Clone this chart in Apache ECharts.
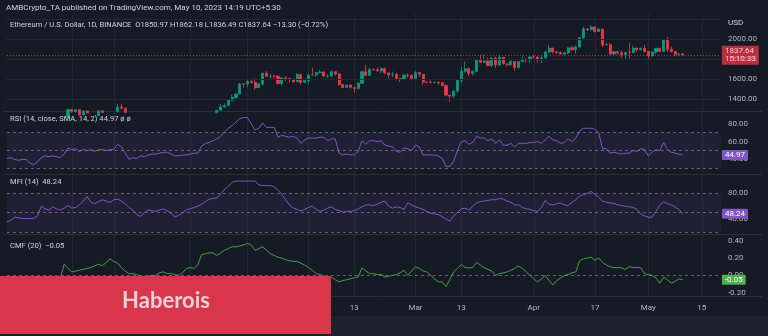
<!DOCTYPE html>
<html>
<head>
<meta charset="utf-8">
<script src="https://cdn.jsdelivr.net/npm/echarts@6.0.0/dist/echarts.min.js"></script>
<style>
  html, body { margin: 0; padding: 0; background: #1e222d; }
  #chart { width: 768px; height: 336px; }
</style>
</head>
<body>
<div id="chart"></div>
<script>
// ETH/USD daily candles, Binance, 14 Nov 2022 .. 10 May 2023
const opens = [1220,1242,1253,1216,1201,1212,1218,1142,1108,1134,1184,1202,1197,1205,1194,1170,1216,1295,1276,1293,1241,1280,1259,1270,1232,1282,1265,1266,1263,1274,1320,1308,1266,1166,1186,1184,1166,1217,1211,1218,1218,1220,1218,1226,1212,1189,1200,1199,1196,1200,1214,1214,1256,1250,1269,1264,1287,1320,1336,1388,1417,1451,1551,1549,1576,1567,1513,1551,1659,1627,1628,1627,1556,1611,1602,1598,1572,1645,1566,1585,1641,1640,1664,1670,1630,1630,1673,1651,1546,1515,1540,1516,1505,1557,1673,1636,1694,1692,1680,1704,1661,1641,1646,1607,1595,1640,1635,1605,1664,1647,1569,1568,1564,1565,1562,1534,1439,1429,1480,1587,1677,1703,1656,1676,1792,1766,1780,1735,1809,1739,1817,1751,1742,1775,1714,1774,1794,1792,1821,1820,1794,1810,1869,1910,1872,1866,1850,1861,1912,1893,1920,2012,2101,2093,2120,2075,2100,1941,1943,1849,1872,1862,1842,1866,1864,1909,1893,1907,1875,1831,1869,1907,1877,1992,1897,1874,1847,1850.97];
const closes = [1242,1253,1216,1201,1212,1218,1142,1108,1134,1184,1202,1197,1205,1194,1170,1216,1295,1276,1293,1241,1280,1259,1270,1232,1282,1265,1266,1263,1274,1320,1308,1266,1166,1186,1184,1166,1217,1211,1218,1218,1220,1218,1226,1212,1189,1200,1199,1196,1200,1214,1214,1256,1250,1269,1264,1287,1320,1336,1388,1417,1451,1551,1549,1576,1567,1513,1551,1659,1627,1628,1627,1556,1611,1602,1598,1572,1645,1566,1585,1641,1640,1664,1670,1630,1630,1673,1651,1546,1515,1540,1516,1505,1557,1673,1636,1694,1692,1680,1704,1661,1641,1646,1607,1595,1640,1635,1605,1664,1647,1569,1568,1564,1565,1562,1534,1439,1429,1480,1587,1677,1703,1656,1676,1792,1766,1780,1735,1809,1739,1817,1751,1742,1775,1714,1774,1794,1792,1821,1820,1794,1810,1869,1910,1872,1866,1850,1861,1912,1893,1920,2012,2101,2093,2120,2075,2100,1941,1943,1849,1872,1862,1842,1866,1864,1909,1893,1907,1875,1831,1869,1907,1877,1992,1897,1874,1847,1850.97,1837.64];
const lows = [1170,1231,1196,1190,1195,1204,1136,1073,1080,1130,1178,1172,1190,1191,1155,1167,1215,1261,1263,1236,1240,1255,1249,1218,1229,1262,1261,1260,1240,1262,1296,1258,1160,1158,1175,1150,1164,1205,1193,1213,1216,1206,1212,1203,1183,1183,1187,1192,1191,1193,1206,1210,1245,1240,1261,1262,1286,1316,1326,1378,1397,1445,1513,1520,1550,1492,1510,1532,1624,1605,1604,1544,1533,1580,1566,1565,1570,1546,1562,1548,1633,1620,1655,1616,1611,1617,1632,1530,1508,1510,1505,1461,1496,1550,1630,1638,1684,1678,1660,1644,1602,1620,1585,1570,1591,1612,1601,1599,1620,1543,1560,1558,1555,1542,1531,1425,1370,1411,1460,1563,1662,1625,1637,1671,1760,1762,1727,1719,1711,1730,1745,1722,1736,1681,1704,1772,1764,1763,1810,1765,1760,1805,1860,1855,1852,1847,1833,1850,1883,1852,1910,1995,2080,2085,2063,2070,1920,1935,1840,1835,1842,1810,1791,1802,1860,1872,1886,1868,1804,1826,1849,1870,1872,1870,1865,1826,1830,1836.49];
const highs = [1262,1268,1263,1227,1235,1223,1224,1150,1137,1189,1213,1206,1231,1221,1196,1226,1288,1286,1285,1283,1284,1286,1273,1272,1281,1279,1278,1275,1278,1351,1352,1318,1270,1191,1194,1197,1223,1218,1219,1228,1223,1228,1227,1235,1216,1204,1203,1208,1203,1224,1220,1274,1259,1274,1271,1289,1350,1356,1397,1441,1454,1563,1555,1597,1596,1606,1557,1663,1677,1653,1644,1640,1620,1627,1614,1604,1660,1649,1600,1653,1715,1670,1690,1675,1649,1684,1680,1660,1552,1541,1542,1525,1570,1680,1742,1715,1705,1717,1715,1713,1662,1674,1662,1611,1645,1657,1648,1679,1666,1647,1574,1585,1580,1580,1567,1547,1440,1493,1596,1720,1778,1716,1685,1800,1842,1845,1814,1816,1824,1842,1818,1757,1790,1778,1779,1828,1812,1826,1840,1824,1837,1880,1942,1912,1875,1873,1874,1918,1935,1936,2020,2125,2110,2138,2123,2109,2101,1963,1961,1885,1880,1885,1870,1964,1935,1916,1915,1940,1880,1879,1910,1910,2000,2020,1928,1880,1862,1862.18];

// Indicator readings per day (same date range)
const rsiValues = [41,42,40,39,40,40,36,34,37,42,44,43,44,43,42,46,53,51,52,49,51,50,51,49,51,51,50,51,51,57,54,47,40,42,41,44,43,45,46,46,47,48,48,46,44,44,45,45,46,47,47,55,58,59,61,63,66,71,75,78,82,86,87,87,80,73,75,81,76,76,76,65,67,66,65,66,64,58,62,64,64,64,65,65,61,63,63,47,45,46,45,45,49,61,57,61,61,60,61,56,55,54,49,48,53,52,50,56,54,45,45,45,45,44,41,32,32,38,50,60,61,57,59,66,64,64,61,63,58,62,56,56,58,54,58,58,58,59,59,60,58,62,66,62,61,58,59,63,60,64,72,75,75,75,74,70,52,52,47,48,47,46,47,47,50,49,52,51,44,48,51,50,59,51,48,47,46,44.97];
const mfiValues = [36,38,43,42,41,41,41,41,45,60,56,54,59,56,54,57,61,57,58,62,68,75,66,64,67,70,68,66,70,71,68,64,58,54,47,44,50,54,53,52,54,56,53,49,43,46,50,54,56,58,60,63,67,71,72,73,79,86,91,97,99,99,99,99,99,99,93,92,92,92,90,85,78,70,62,57,55,53,55,58,60,55,52,54,57,59,55,53,51,52,52,53,56,59,62,62,61,63,66,68,60,57,59,58,55,65,62,59,57,55,52,49,48,47,44,40,37,45,50,56,57,54,60,65,67,68,69,70,70,72,71,68,66,62,62,58,56,55,53,52,58,69,63,62,64,65,62,61,66,70,76,78,80,83,78,74,68,66,65,64,62,61,60,59,58,55,48,45,43,43,52,62,67,64,62,59,55,48.24];
const cmfValues = [-0.12,-0.10,-0.11,-0.13,-0.10,-0.08,-0.09,-0.12,-0.10,-0.07,-0.06,-0.05,-0.07,-0.04,-0.03,0.13,0.08,0.04,0.05,0.06,0.07,0.08,0.09,0.11,0.13,0.11,0.15,0.19,0.16,0.14,0.09,0.05,0.02,0.02,0.01,-0.01,-0.02,-0.01,0.00,0.00,0.03,0.04,0.02,0.02,0.01,0.00,0.03,0.08,0.09,0.08,0.12,0.24,0.25,0.26,0.26,0.23,0.26,0.29,0.31,0.33,0.33,0.34,0.35,0.37,0.35,0.29,0.31,0.33,0.29,0.25,0.23,0.21,0.20,0.18,0.17,0.16,0.16,0.14,0.12,0.09,0.06,0.02,0.01,-0.01,-0.03,-0.02,-0.05,-0.075,-0.06,-0.05,-0.04,-0.025,-0.02,0.087,0.05,0.02,0.02,0.01,0.01,-0.02,-0.01,0.0,0.01,0.03,0.06,0.0,0.05,0.10,0.08,0.05,0.04,0.0,-0.04,-0.075,-0.075,-0.13,-0.05,0.04,0.08,0.126,0.09,0.087,0.09,0.15,0.12,0.087,0.07,0.05,0.0,0.02,0.03,0.04,0.06,0.08,0.11,0.08,0.04,0.0,-0.04,-0.075,-0.04,0.0,-0.06,-0.11,-0.06,-0.03,0.0,0.01,0.03,0.04,0.17,0.19,0.20,0.21,0.175,0.2,0.15,0.12,0.10,0.09,0.09,0.087,0.07,0.1,0.09,0.09,0.09,0.02,0.01,0.0,-0.03,-0.09,-0.02,-0.05,-0.09,-0.07,-0.04,-0.05];

// Time scale labels and reference levels
const timeTickDates = ['2022-12-01','2022-12-12','2023-01-01','2023-01-16','2023-02-01','2023-02-13','2023-03-01','2023-03-13','2023-04-01','2023-04-17','2023-05-01','2023-05-15'];
const timeTickLabels = ['Dec','12','2023','16','Feb','13','Mar','13','Apr','17','May','15'];
const priceTicks = [1400, 1600, 1800, 2000];
const priceGridLevels = [1400, 1600, 1800, 2000, 2200];
const rsiTicks = [40, 60, 80];
const rsiBands = [70, 50, 30];
const mfiTicks = [40, 80];
const mfiBands = [80, 50, 20];
const cmfTicks = [-0.2, 0, 0.2, 0.4];
const lastPrice = 1837.64;
const lastRsi = 44.97;
const lastMfi = 48.24;
const lastCmf = -0.05;

// Category axis: one slot per day, with room to the right of the last bar
const firstDay = Date.UTC(2022, 10, 14);
const daySlots = 188;
const dates = [];
for (let i = 0; i < daySlots; i++) {
  dates.push(new Date(firstDay + i * 86400000).toISOString().slice(0, 10));
}
const candles = opens.map((o, i) => [o, closes[i], lows[i], highs[i]]);

const UP = '#089981', DOWN = '#f23645', PURPLE = '#7e57c2', CMF_GREEN = '#43a047';
const TXT = '#b2b5be', GRIDC = '#222631';
const FONT = 'Roboto, "Noto Sans", sans-serif';

const tickSet = new Set(timeTickDates);
const tickLabelOf = {};
timeTickDates.forEach((d, i) => { tickLabelOf[d] = timeTickLabels[i]; });

const panes = [
  { top: 15, height: 96, min: 1280, max: 2240, ticks: priceTicks },
  { top: 112, height: 62, min: 23.6, max: 93.3, ticks: rsiTicks },
  { top: 175, height: 59, min: 16.9, max: 108.4, ticks: mfiTicks },
  { top: 235, height: 61, min: -0.238, max: 0.466, ticks: cmfTicks }
];

const grid = panes.map(p => ({ left: 6.9, right: 47.1, top: p.top, height: p.height }));
const xAxis = panes.map((p, k) => ({
  type: 'category', gridIndex: k, data: dates, boundaryGap: false,
  axisLine: { show: false }, axisTick: { show: false },
  axisLabel: {
    show: k === 3, margin: 8, color: TXT, fontSize: 8, fontFamily: FONT,
    interval: (idx, val) => tickSet.has(val),
    formatter: val => tickLabelOf[val] || ''
  },
  splitLine: {
    show: true, interval: (idx, val) => tickSet.has(val),
    lineStyle: { color: GRIDC, width: 1 }
  }
}));
const yAxis = panes.map((p, k) => ({
  type: 'value', gridIndex: k, position: 'right', min: p.min, max: p.max, scale: true,
  axisLine: { show: false }, axisTick: { show: false }, splitLine: { show: false },
  axisLabel: {
    customValues: p.ticks, margin: 7, color: TXT, fontSize: 8, fontFamily: FONT,
    formatter: v => v.toFixed(2)
  }
}));

const dashed = { color: 'rgba(120,123,134,0.75)', type: [3, 3], width: 1 };
const tag = (value, bg, text) => ({
  yAxis: value,
  lineStyle: { color: 'rgba(0,0,0,0)', width: 0 },
  label: {
    show: true, position: 'end', distance: 1, formatter: text,
    backgroundColor: bg, color: '#ffffff', fontSize: 8, fontFamily: FONT,
    padding: [1, 3, 1, 3], lineHeight: 8, borderRadius: 1
  }
});

const series = [
  {
    type: 'candlestick', xAxisIndex: 0, yAxisIndex: 0, data: candles, barWidth: 2.6,
    itemStyle: { color: UP, color0: DOWN, borderColor: UP, borderColor0: DOWN, borderWidth: 0.8 },
    markLine: {
      silent: true, symbol: 'none', animation: false,
      data: priceGridLevels.map(v => ({ yAxis: v, lineStyle: { color: GRIDC, type: 'solid', width: 1 }, label: { show: false } }))
        .concat([{
          yAxis: lastPrice,
          lineStyle: { color: DOWN, type: [1, 2], width: 1, opacity: 0.75 },
          label: {
            show: true, position: 'end', distance: 1,
            formatter: lastPrice.toFixed(2) + '\n15:10:33',
            backgroundColor: DOWN, color: '#ffffff', fontSize: 8, fontFamily: FONT,
            padding: [1, 3, 1, 3], lineHeight: 8.5
          }
        }])
    }
  },
  {
    type: 'line', xAxisIndex: 1, yAxisIndex: 1, data: rsiValues, showSymbol: false,
    lineStyle: { color: PURPLE, width: 1 }, itemStyle: { color: PURPLE },
    markArea: { silent: true, itemStyle: { color: 'rgba(126,87,194,0.10)' }, data: [[{ yAxis: 30 }, { yAxis: 70 }]] },
    markLine: {
      silent: true, symbol: 'none', animation: false,
      data: rsiBands.map(v => ({ yAxis: v, lineStyle: dashed, label: { show: false } }))
        .concat([tag(lastRsi, PURPLE, lastRsi.toFixed(2))])
    }
  },
  {
    type: 'line', xAxisIndex: 2, yAxisIndex: 2, data: mfiValues, showSymbol: false,
    lineStyle: { color: PURPLE, width: 1 }, itemStyle: { color: PURPLE },
    markArea: { silent: true, itemStyle: { color: 'rgba(126,87,194,0.10)' }, data: [[{ yAxis: 20 }, { yAxis: 80 }]] },
    markLine: {
      silent: true, symbol: 'none', animation: false,
      data: mfiBands.map(v => ({ yAxis: v, lineStyle: dashed, label: { show: false } }))
        .concat([tag(lastMfi, PURPLE, lastMfi.toFixed(2))])
    }
  },
  {
    type: 'line', xAxisIndex: 3, yAxisIndex: 3, data: cmfValues, showSymbol: false,
    lineStyle: { color: CMF_GREEN, width: 1 }, itemStyle: { color: CMF_GREEN },
    markLine: {
      silent: true, symbol: 'none', animation: false,
      data: [{ yAxis: 0, lineStyle: dashed, label: { show: false } }, tag(lastCmf, '#4caf50', lastCmf.toFixed(2))]
    }
  }
];

const txt = (x, y, rich, text) => ({
  type: 'text', left: x, top: y, z: 50,
  style: { text, rich, font: '8px ' + FONT, fill: '#d1d4dc' }
});
const LEG = 7.6;
const base = { fontSize: LEG, fontFamily: FONT, color: '#d1d4dc' };
const red = { fontSize: LEG, fontFamily: FONT, color: DOWN };
const vio = { fontSize: LEG, fontFamily: FONT, color: '#9c84e0' };
const grn = { fontSize: LEG, fontFamily: FONT, color: '#4caf50' };
const head = { fontSize: 8, fontFamily: FONT, color: '#d1d4dc' };

const graphic = [
  // pane separators
  ...[111, 174, 234, 296].map(y => ({
    type: 'line', z: 1, shape: { x1: 3, y1: y + 0.5, x2: 762, y2: y + 0.5 },
    style: { stroke: '#2a2e39', lineWidth: 1 }
  })),
  { type: 'rect', z: 0, shape: { x: 0, y: 316, width: 768, height: 20 }, style: { fill: '#1e222d' } },
  txt(6, 4, { a: head }, '{a|AMBCrypto_TA published on TradingView.com, May 10, 2023 14:19 UTC+5:30}'),
  txt(10, 21, { a: base, r: red },
    '{a|Ethereum / U.S. Dollar, 1D, BINANCE  O}{r|1850.97}{a| H}{r|1862.18}{a| L}{r|1836.49}{a| C}{r|1837.64}{r| −13.30 (−0.72%)}'),
  txt(728, 19, { a: { fontSize: 8, fontFamily: FONT, color: TXT } }, '{a|USD}'),
  txt(10, 115, { a: base, v: vio }, '{a|RSI (14, close, SMA, 14, 2) }{v|44.97}{a| ø ø}'),
  txt(10, 178, { a: base, v: vio }, '{a|MFI (14)  }{v|48.24}'),
  txt(10, 242, { a: base, v: grn }, '{a|CMF (20)  }{v|−0.05}'),
  // watermark banner, on its own layer above the chart
  {
    type: 'group', zlevel: 5, z: 100,
    children: [
      { type: 'rect', zlevel: 5, shape: { x: 0, y: 276, width: 331, height: 58 }, style: { fill: '#d8364a' } },
      {
        type: 'text', zlevel: 5, x: 166, y: 301,
        style: { text: 'Haberois', font: 'bold 22px Lato, "Open Sans", sans-serif', fill: '#e7cfd8', align: 'center', verticalAlign: 'middle' }
      }
    ]
  }
];

const chart = echarts.init(document.getElementById('chart'), null, { renderer: 'canvas' });
chart.setOption({
  backgroundColor: '#161a25',
  animation: false,
  grid, xAxis, yAxis, series, graphic
});
</script>
</body>
</html>
